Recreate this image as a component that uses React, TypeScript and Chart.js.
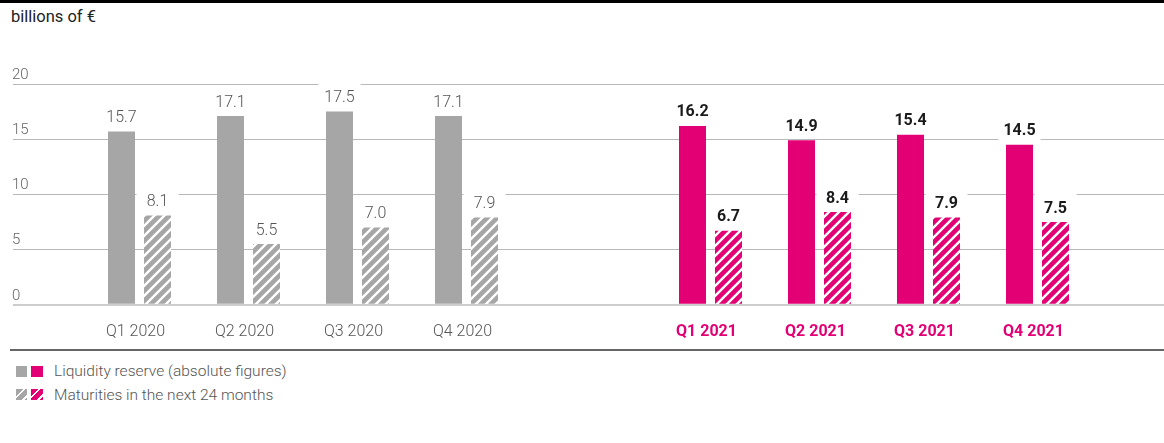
import React, { useEffect, useRef } from 'react';
import { Chart, registerables } from 'chart.js';

Chart.register(...registerables);

// ---- data ----
const labels2020 = ['Q1 2020', 'Q2 2020', 'Q3 2020', 'Q4 2020'];
const reserve2020 = [15.7, 17.1, 17.5, 17.1];
const maturities2020 = [8.1, 5.5, 7.0, 7.9];

const labels2021 = ['Q1 2021', 'Q2 2021', 'Q3 2021', 'Q4 2021'];
const reserve2021 = [16.2, 14.9, 15.4, 14.5];
const maturities2021 = [6.7, 8.4, 7.9, 7.5];

const yMin = 0;
const yMax = 20;
const yStep = 5;

const unitLabel = 'billions of €';
const legendLabels = ['Liquidity reserve (absolute figures)', 'Maturities in the next 24 months'];

// ---- styles ----
const FONT = 'Roboto, "Open Sans", "DejaVu Sans", sans-serif';
const GRAY = '#a6a6a6';
const MAGENTA = '#e20074';
const GRID = '#b8b8b8';
const ZERO = '#cdcdcd';
const CANVAS_H = 312;

function makeHatch(base: string): CanvasPattern | string {
  const tile = document.createElement('canvas');
  tile.width = 10;
  tile.height = 10;
  const c = tile.getContext('2d');
  if (!c) return base;
  c.fillStyle = base;
  c.fillRect(0, 0, 10, 10);
  c.strokeStyle = '#ffffff';
  c.lineWidth = 2.4;
  c.beginPath();
  c.moveTo(-5, 5); c.lineTo(5, -5);
  c.moveTo(0, 10); c.lineTo(10, 0);
  c.moveTo(5, 15); c.lineTo(15, 5);
  c.stroke();
  const p = c.createPattern(tile, 'repeat');
  return p || base;
}

function valueLabels(color: string, weight: string) {
  return {
    id: 'valueLabels',
    beforeDatasetsDraw(chart: any) {
      const ctx = chart.ctx;
      ctx.save();
      ctx.fillStyle = '#ffffff';
      chart.data.datasets.forEach((_d: any, i: number) => {
        chart.getDatasetMeta(i).data.forEach((bar: any) => {
          ctx.fillRect(bar.x - 21, bar.y - 31, 42, 27);
        });
      });
      ctx.restore();
    },
    afterDatasetsDraw(chart: any) {
      const ctx = chart.ctx;
      ctx.save();
      ctx.fillStyle = color;
      ctx.font = `${weight} 16px ${FONT}`;
      ctx.textAlign = 'center';
      ctx.textBaseline = 'alphabetic';
      chart.data.datasets.forEach((d: any, i: number) => {
        chart.getDatasetMeta(i).data.forEach((bar: any, j: number) => {
          ctx.fillText(Number(d.data[j]).toFixed(1), bar.x, bar.y - 9.5);
        });
      });
      ctx.restore();
    },
  };
}

const gridColor = (c: any) => (c.tick && c.tick.value === 0 ? ZERO : GRID);
const gridWidth = (c: any) => (c.tick && c.tick.value === 0 ? 2 : 1);

function buildConfig(
  labels: string[],
  reserve: number[],
  maturities: number[],
  base: string,
  left: boolean,
): any {
  const xTickColor = left ? '#555555' : MAGENTA;
  const xTickWeight = left ? '300' : '700';
  const scales: any = {
    x: {
      grid: { display: false },
      border: { display: false },
      ticks: {
        color: xTickColor,
        font: { family: FONT, size: 16, weight: xTickWeight },
        padding: 10,
        labelOffset: -4,
      },
    },
    y: {
      position: 'left',
      min: yMin,
      max: yMax,
      border: { display: false },
      grid: {
        color: gridColor,
        lineWidth: gridWidth,
        drawTicks: true,
        tickLength: left ? 72 : 135,
      },
      ticks: {
        display: left,
        stepSize: yStep,
        crossAlign: 'far',
        labelOffset: -9,
        padding: 0,
        color: '#666666',
        font: { family: FONT, size: 15, weight: '300' },
      },
      afterFit: (s: any) => {
        s.width = left ? 73 : 135;
      },
    },
  };
  if (!left) {
    scales.yR = {
      position: 'right',
      min: yMin,
      max: yMax,
      border: { display: false },
      grid: {
        color: gridColor,
        lineWidth: gridWidth,
        drawOnChartArea: false,
        drawTicks: true,
        tickLength: 72,
      },
      ticks: { display: false, stepSize: yStep },
      afterFit: (s: any) => {
        s.width = 72;
      },
    };
  }
  return {
    type: 'bar',
    data: {
      labels,
      datasets: [
        {
          label: legendLabels[0],
          data: reserve,
          backgroundColor: base,
          borderWidth: 0,
          categoryPercentage: 0.6606,
          barPercentage: 0.75,
        },
        {
          label: legendLabels[1],
          data: maturities,
          backgroundColor: makeHatch(base),
          borderWidth: 0,
          categoryPercentage: 0.6606,
          barPercentage: 0.75,
        },
      ],
    },
    options: {
      responsive: false,
      animation: false,
      events: [],
      layout: { padding: { left: left ? 12 : 0, top: 44, right: 0, bottom: 0 } },
      plugins: { legend: { display: false }, tooltip: { enabled: false } },
      scales,
    },
    plugins: [valueLabels(left ? '#555555' : '#1a1a1a', left ? '300' : '700')],
  };
}

function ChartCanvas(props: {
  labels: string[];
  reserve: number[];
  maturities: number[];
  base: string;
  left: boolean;
  width: number;
  x: number;
}) {
  const ref = useRef<HTMLCanvasElement | null>(null);
  useEffect(() => {
    if (!ref.current) return;
    const chart = new Chart(
      ref.current,
      buildConfig(props.labels, props.reserve, props.maturities, props.base, props.left),
    );
    return () => chart.destroy();
  }, []);
  return (
    <canvas
      ref={ref}
      width={props.width}
      height={CANVAS_H}
      style={{ position: 'absolute', left: props.x, top: 40, width: props.width, height: CANVAS_H, display: 'block' }}
    />
  );
}

const hatchCss = (c: string) =>
  `repeating-linear-gradient(135deg, ${c} 0px, ${c} 5px, #ffffff 5px, #ffffff 7px)`;

export default function App() {
  const text = { fontFamily: FONT, color: '#555555', fontWeight: 300 as const };
  return (
    <div style={{ position: 'absolute', left: 0, top: 0, width: 1164, height: 443, background: '#ffffff', overflow: 'hidden' }}>
      <div style={{ position: 'absolute', left: 0, top: 0, width: 1164, height: 3, background: '#000000' }} />
      <div style={{ position: 'absolute', left: 11, top: 7, fontFamily: FONT, fontSize: 16.5, lineHeight: '20px', color: '#222222' }}>
        {unitLabel}
      </div>
      <ChartCanvas labels={labels2020} reserve={reserve2020} maturities={maturities2020} base={GRAY} left={true} width={521} x={0} />
      <ChartCanvas labels={labels2021} reserve={reserve2021} maturities={maturities2021} base={MAGENTA} left={false} width={643} x={521} />
      <div style={{ position: 'absolute', left: 10, top: 349, width: 1154, height: 2, background: '#666666' }} />
      <div style={{ position: 'absolute', left: 16, top: 366, width: 11, height: 11, background: GRAY }} />
      <div style={{ position: 'absolute', left: 31, top: 366, width: 12, height: 11, background: MAGENTA }} />
      <div style={{ position: 'absolute', left: 16, top: 389, width: 11, height: 11, background: hatchCss(GRAY) }} />
      <div style={{ position: 'absolute', left: 31, top: 389, width: 12, height: 11, background: hatchCss(MAGENTA) }} />
      <div style={{ ...text, position: 'absolute', left: 54, top: 361, fontSize: 15.5, lineHeight: '20px' }}>{legendLabels[0]}</div>
      <div style={{ ...text, position: 'absolute', left: 54, top: 385, fontSize: 15.5, lineHeight: '20px' }}>{legendLabels[1]}</div>
    </div>
  );
}
